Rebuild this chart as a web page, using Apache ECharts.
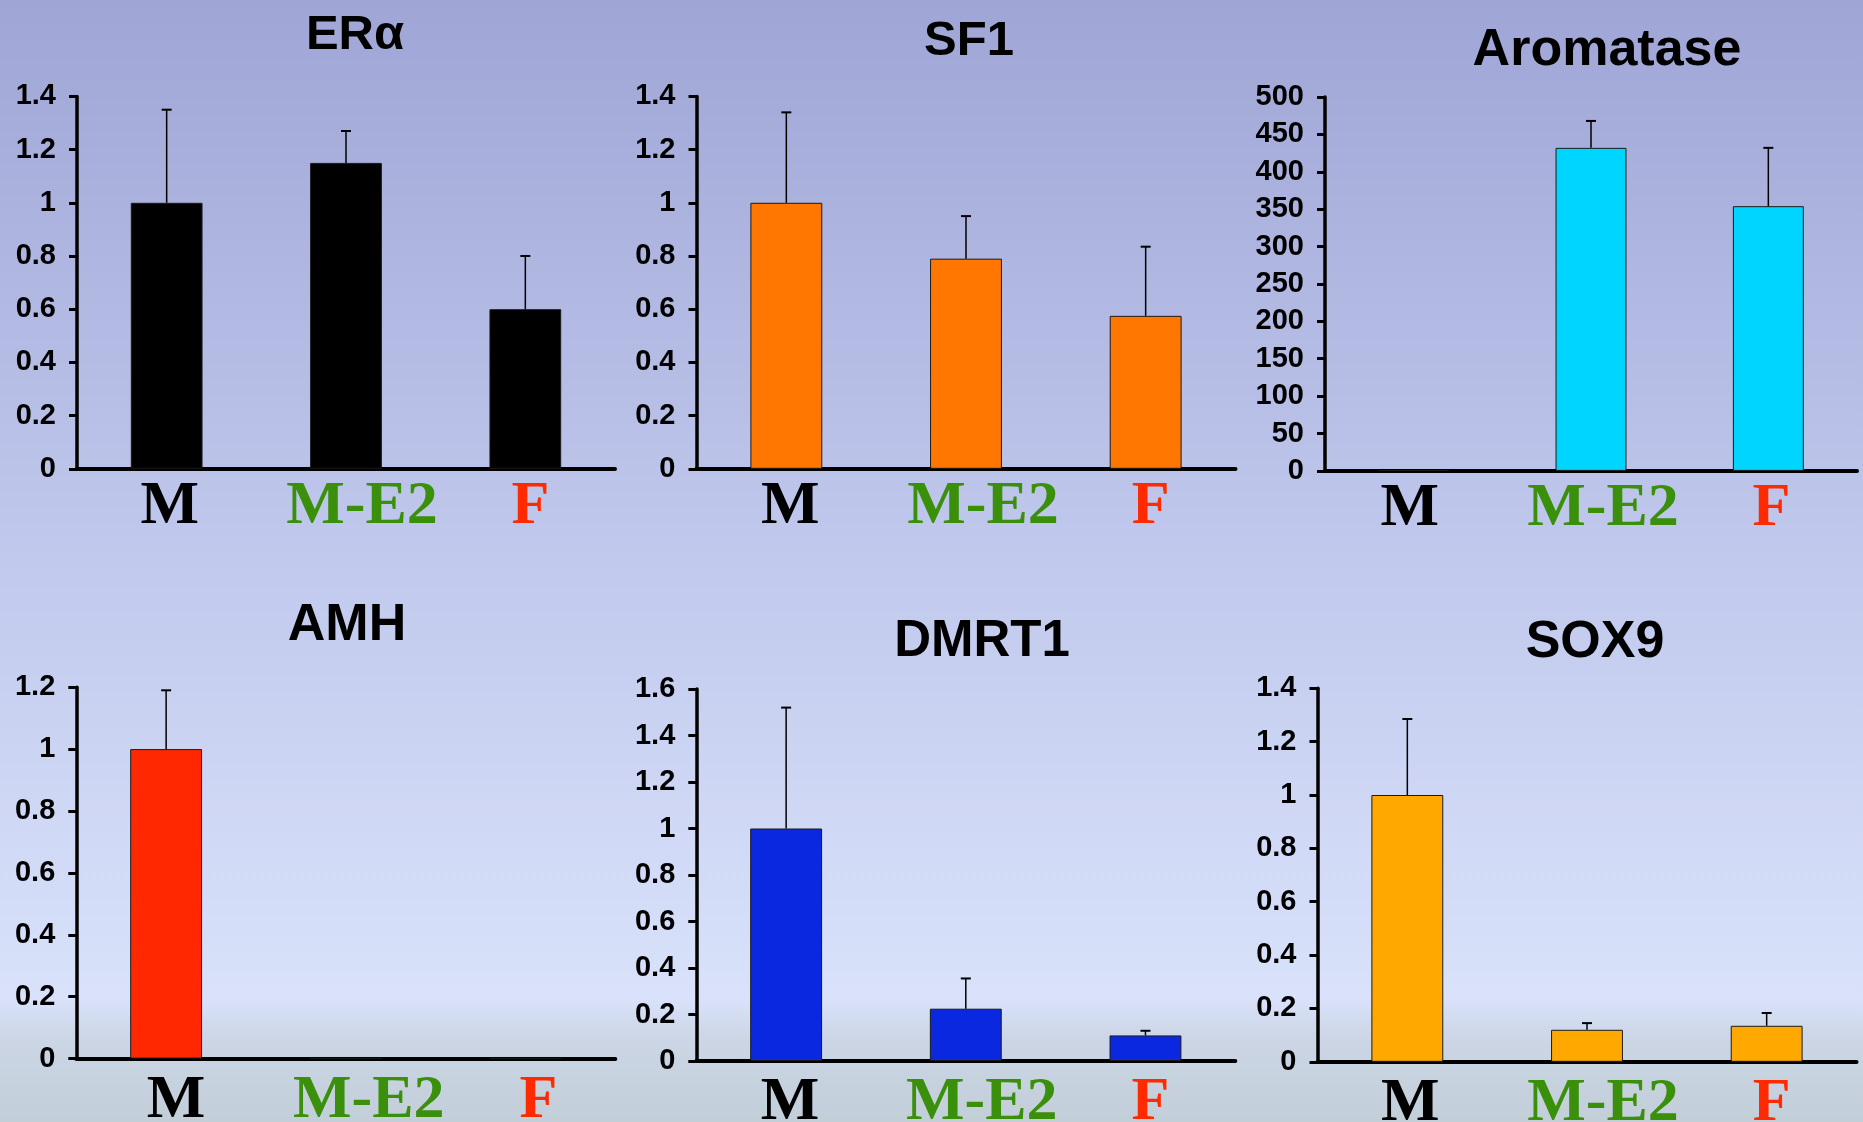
<!DOCTYPE html>
<html>
<head>
<meta charset="utf-8">
<script src="https://cdn.jsdelivr.net/npm/echarts@6/dist/echarts.min.js"></script>
<style>
  html, body { margin: 0; padding: 0; width: 1863px; height: 1122px; overflow: hidden; }
  #chart { width: 1863px; height: 1122px; }
</style>
</head>
<body>
<div id="chart"></div>
<script>
// ---- data ----
const categories = ['M', 'M-E2', 'F'];
const titles = ['ERα', 'SF1', 'Aromatase', 'AMH', 'DMRT1', 'SOX9'];

const eraMean = [1.0, 1.15, 0.6];
const eraErrTop = [1.35, 1.27, 0.8];
const sf1Mean = [1.0, 0.79, 0.575];
const sf1ErrTop = [1.34, 0.95, 0.835];
const aromataseMean = [1, 432, 354];
const aromataseErrTop = [null, 468, 432];
const amhMean = [1.0, 0, 0];
const amhErrTop = [1.19, null, null];
const dmrt1Mean = [1.0, 0.225, 0.11];
const dmrt1ErrTop = [1.52, 0.355, 0.13];
const sox9Mean = [1.0, 0.12, 0.135];
const sox9ErrTop = [1.285, 0.145, 0.183];

const yMax = [1.4, 1.4, 500, 1.2, 1.6, 1.4];
const yInterval = [0.2, 0.2, 50, 0.2, 0.2, 0.2];

const means = [eraMean, sf1Mean, aromataseMean, amhMean, dmrt1Mean, sox9Mean];
const errTops = [eraErrTop, sf1ErrTop, aromataseErrTop, amhErrTop, dmrt1ErrTop, sox9ErrTop];

// ---- styling / layout ----
const barColors = ['#000000', '#ff7700', '#00d5ff', '#ff2800', '#0a28e0', '#ffa800'];
const catColors = { 'M': '#000000', 'M-E2': '#3a8f0b', 'F': '#ff2a00' };
const grids = [
  { left: 77, top: 96.4, width: 538, height: 372.4 },
  { left: 696.5, top: 96.4, width: 539, height: 372.4 },
  { left: 1325, top: 97, width: 532, height: 373.9 },
  { left: 76.3, top: 687.2, width: 539, height: 371.4 },
  { left: 696.3, top: 689, width: 539, height: 372 },
  { left: 1317.5, top: 688.3, width: 539, height: 373.5 }
];
const labelMargin = [7, 7, 7, 11, 11, 11];
const labelShift = [[3, 16, 5], [4, 17, 5], [-4, 12, 3], [10, 23, 13], [4, 16, 5], [3, 16, 5]];
const titleLayout = [
  { x: 355, cy: 35, size: 49 },
  { x: 969, cy: 41, size: 49 },
  { x: 1607, cy: 50.3, size: 52 },
  { x: 347, cy: 625.7, size: 52 },
  { x: 982, cy: 642.4, size: 51 },
  { x: 1595, cy: 642.4, size: 52 }
];

const sansFont = 'Arial, "Liberation Sans", Helvetica, sans-serif';
const serifFont = '"Times New Roman", "Liberation Serif", serif';

const option = {
  animation: false,
  backgroundColor: {
    type: 'linear', x: 0, y: 0, x2: 0, y2: 1,
    colorStops: [
      { offset: 0, color: '#9fa5d5' },
      { offset: 0.5, color: '#c1c9ed' },
      { offset: 0.89, color: '#d9e2fa' },
      { offset: 0.925, color: '#ccd6e6' },
      { offset: 1, color: '#c2ced8' }
    ]
  },
  title: titles.map((t, i) => ({
    text: t,
    left: titleLayout[i].x,
    top: titleLayout[i].cy - titleLayout[i].size / 2,
    textAlign: 'center',
    padding: 0,
    textStyle: {
      fontFamily: sansFont, fontWeight: 'bold',
      fontSize: titleLayout[i].size, color: '#000'
    }
  })),
  grid: grids.map(g => Object.assign({ containLabel: false, outerBoundsMode: 'none' }, g)),
  xAxis: grids.map((g, i) => {
    const sh = labelShift[i];
    const rich = {};
    categories.forEach((c, k) => {
      const d = sh[k];
      rich['c' + k] = {
        color: catColors[c], fontFamily: serifFont, fontWeight: 'bold', fontSize: 62,
        padding: d >= 0 ? [0, 0, 0, 2 * d] : [0, 2 * -d, 0, 0]
      };
    });
    return {
      type: 'category', gridIndex: i, data: categories,
      axisLine: { show: true, lineStyle: { color: '#000', width: 4 } },
      axisTick: { show: false },
      axisLabel: {
        margin: labelMargin[i],
        interval: 0,
        hideOverlap: false,
        formatter: (v) => '{c' + categories.indexOf(v) + '|' + v + '}',
        rich: rich
      },
      splitLine: { show: false }
    };
  }),
  yAxis: grids.map((g, i) => ({
    type: 'value', gridIndex: i, min: 0, max: yMax[i], interval: yInterval[i],
    axisLine: { show: true, lineStyle: { color: '#000', width: 3.5 } },
    axisTick: { show: true, inside: false, length: 8, lineStyle: { color: '#000', width: 3 } },
    axisLabel: {
      margin: 21, color: '#000', fontFamily: sansFont, fontWeight: 'bold', fontSize: 29
    },
    splitLine: { show: false }
  })),
  series: []
};

means.forEach((m, i) => {
  option.series.push({
    type: 'bar', xAxisIndex: i, yAxisIndex: i, data: m,
    barWidth: '40%',
    itemStyle: { color: barColors[i], borderColor: '#1a1a1a', borderWidth: 1 },
    z: 2
  });
  const errData = [];
  errTops[i].forEach((e, k) => { if (e != null) errData.push([k, m[k], e]); });
  option.series.push({
    type: 'custom', xAxisIndex: i, yAxisIndex: i, data: errData,
    encode: { x: 0, y: [1, 2] },
    z: 3,
    renderItem: function (params, api) {
      const p0 = api.coord([api.value(0), api.value(1)]);
      const p1 = api.coord([api.value(0), api.value(2)]);
      return {
        type: 'group',
        children: [
          { type: 'line', shape: { x1: p0[0], y1: p0[1], x2: p1[0], y2: p1[1] },
            style: { stroke: '#000', lineWidth: 1.5 } },
          { type: 'line', shape: { x1: p1[0] - 5, y1: p1[1], x2: p1[0] + 5, y2: p1[1] },
            style: { stroke: '#000', lineWidth: 2 } }
        ]
      };
    }
  });
});

const chart = echarts.init(document.getElementById('chart'), null, { renderer: 'canvas' });
chart.setOption(option);
</script>
</body>
</html>
